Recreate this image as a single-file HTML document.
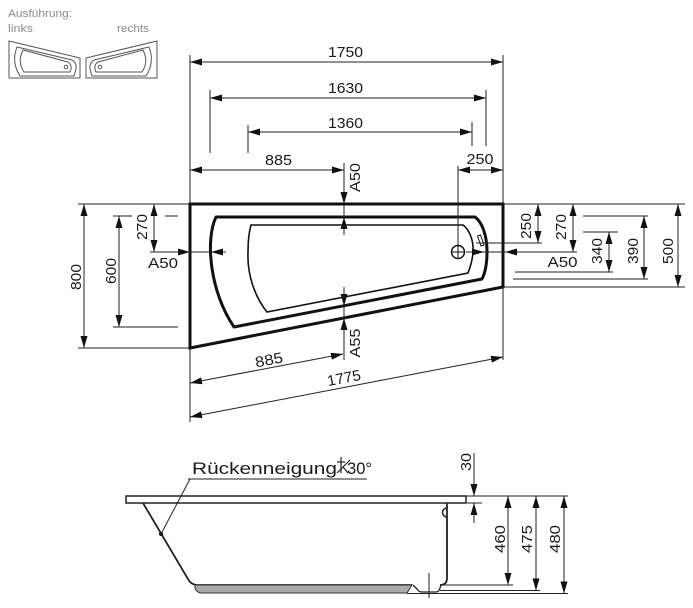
<!DOCTYPE html>
<html><head><meta charset="utf-8">
<style>
html,body{margin:0;padding:0;background:#fff;}
svg{display:block;}
text{font-family:"Liberation Sans",Arial,sans-serif;fill:#1a1a1a;}
</style></head><body>
<svg width="693" height="608" viewBox="0 0 693 608" xmlns="http://www.w3.org/2000/svg">
<defs>
<marker id="a" viewBox="0 0 12 7" refX="12" refY="3.5" markerWidth="12" markerHeight="7" markerUnits="userSpaceOnUse" orient="auto-start-reverse"><path d="M0,0 L12,3.5 L0,7 z" fill="#111"/></marker>
</defs>

<!-- header labels -->
<text x="8" y="17" font-size="11" fill="#8a8a8a" style="fill:#8a8a8a" textLength="64" lengthAdjust="spacingAndGlyphs">Ausführung:</text>
<text x="8" y="32" font-size="11" style="fill:#8a8a8a" textLength="25" lengthAdjust="spacingAndGlyphs">links</text>
<text x="117" y="32" font-size="11" style="fill:#8a8a8a" textLength="32" lengthAdjust="spacingAndGlyphs">rechts</text>

<!-- small icons -->
<g id="ic" fill="none" stroke="#555" stroke-width="1">
 <path d="M9,41 L80,58 L80,78 L9,78 Z"/>
 <path d="M17,47 L72,60 Q77,63 76,69 L74,76 L20,76 Q11,62 17,47 Z"/>
 <path d="M23,50 L68,62 Q72,65 71,69 L70,72 L24,72 Q17,62 23,50 Z"/>
 <circle cx="66" cy="67" r="1.8"/>
</g>
<g transform="translate(166,0) scale(-1,1)" fill="none" stroke="#555" stroke-width="1">
 <path d="M9,41 L80,58 L80,78 L9,78 Z"/>
 <path d="M17,47 L72,60 Q77,63 76,69 L74,76 L20,76 Q11,62 17,47 Z"/>
 <path d="M23,50 L68,62 Q72,65 71,69 L70,72 L24,72 Q17,62 23,50 Z"/>
 <circle cx="66" cy="67" r="1.8"/>
</g>

<!-- TOP VIEW: tub outlines -->
<g fill="none" stroke="#111">
 <polygon points="190,204 503,204 503,287 190,348" stroke-width="3"/>
 <path d="M216,217 L475,217 C482,222 487,235 487,252 C487,265 485,273 482,279 L234,327 C210,292 205,240 216,217 Z" stroke-width="3" stroke-linejoin="round"/>
 <path d="M251,225 L463,225 C470,230 474,242 473,253 C472,262 470,268 468,273 L267,312 C255,297 247,275 248,252 C248,240 249,232 251,225 Z" stroke-width="1.6"/>
 <circle cx="458" cy="252" r="6.5" stroke-width="1.5"/>
 <line x1="458" y1="246" x2="458" y2="258" stroke-width="1"/>
 <line x1="452" y1="252" x2="464" y2="252" stroke-width="1"/>
 <polygon points="477.5,236 480.5,235 484,245 481,246" stroke-width="1"/>
</g>

<!-- dimension lines -->
<g stroke="#222" stroke-width="1" fill="none">
 <!-- extension lines top -->
 <line x1="190" y1="55" x2="190" y2="204"/>
 <line x1="190" y1="348" x2="190" y2="422"/>
 <line x1="503" y1="55" x2="503" y2="204"/>
 <line x1="503" y1="287" x2="503" y2="360"/>
 <line x1="210" y1="90" x2="210" y2="153"/>
 <line x1="486" y1="90" x2="486" y2="146"/>
 <line x1="248" y1="125" x2="248" y2="153"/>
 <line x1="472" y1="122" x2="472" y2="146"/>
 <line x1="458" y1="166" x2="458" y2="245"/>
 <!-- top dims -->
 <line x1="190" y1="62" x2="503" y2="62" marker-start="url(#a)" marker-end="url(#a)"/>
 <line x1="210" y1="98" x2="486" y2="98" marker-start="url(#a)" marker-end="url(#a)"/>
 <line x1="248" y1="132" x2="472" y2="132" marker-start="url(#a)" marker-end="url(#a)"/>
 <line x1="190" y1="170" x2="344" y2="170" marker-start="url(#a)" marker-end="url(#a)"/>
 <line x1="458" y1="170" x2="503" y2="170" marker-start="url(#a)" marker-end="url(#a)"/>
 <!-- center vertical A50 / A55 -->
 <line x1="344" y1="163" x2="344" y2="204" marker-end="url(#a)"/>
 <line x1="344" y1="204" x2="344" y2="217"/>
 <line x1="344" y1="235" x2="344" y2="217" marker-end="url(#a)"/>
 <line x1="344" y1="287" x2="344" y2="306" marker-end="url(#a)"/>
 <line x1="344" y1="306" x2="344" y2="318"/>
 <line x1="344" y1="360" x2="344" y2="318" marker-end="url(#a)"/>
 <!-- left A50 -->
 <line x1="150" y1="252" x2="190" y2="252" marker-end="url(#a)"/>
 <line x1="190" y1="252" x2="211" y2="252"/>
 <line x1="226" y1="252" x2="211" y2="252" marker-end="url(#a)"/>
 <!-- right A50 -->
 <line x1="466" y1="252" x2="484" y2="252" marker-end="url(#a)"/>
 <line x1="484" y1="252" x2="505" y2="252"/>
 <line x1="577" y1="252" x2="505" y2="252" marker-end="url(#a)"/>
 <!-- left dims -->
 <line x1="78" y1="204" x2="190" y2="204"/>
 <line x1="78" y1="348" x2="190" y2="348"/>
 <line x1="84" y1="204" x2="84" y2="348" marker-start="url(#a)" marker-end="url(#a)"/>
 <line x1="113" y1="216" x2="132" y2="216"/>
 <line x1="165" y1="216" x2="178" y2="216"/>
 <line x1="113" y1="327" x2="178" y2="327"/>
 <line x1="119" y1="216" x2="119" y2="327" marker-start="url(#a)" marker-end="url(#a)"/>
 <line x1="154" y1="204" x2="154" y2="252" marker-start="url(#a)" marker-end="url(#a)"/>
 <!-- right dims -->
 <line x1="503" y1="204" x2="685" y2="204"/>
 <line x1="503" y1="287" x2="685" y2="287"/>
 <line x1="476" y1="243" x2="542" y2="243"/>
 <line x1="538" y1="204" x2="538" y2="243" marker-start="url(#a)" marker-end="url(#a)"/>
 <line x1="573" y1="204" x2="573" y2="252" marker-start="url(#a)" marker-end="url(#a)"/>
 <line x1="583" y1="232" x2="618" y2="232"/>
 <line x1="515" y1="272" x2="613" y2="272"/>
 <line x1="609" y1="232" x2="609" y2="272" marker-start="url(#a)" marker-end="url(#a)"/>
 <line x1="583" y1="216" x2="648" y2="216"/>
 <line x1="513" y1="279" x2="648" y2="279"/>
 <line x1="644" y1="216" x2="644" y2="279" marker-start="url(#a)" marker-end="url(#a)"/>
 <line x1="678" y1="204" x2="678" y2="287" marker-start="url(#a)" marker-end="url(#a)"/>
 <!-- slanted bottom dims -->
 <line x1="190" y1="383" x2="343" y2="354" marker-start="url(#a)" marker-end="url(#a)"/>
 <line x1="190" y1="417" x2="503" y2="357" marker-start="url(#a)" marker-end="url(#a)"/>
</g>

<!-- dimension texts -->
<g font-size="15">
 <text x="345.5" y="57" text-anchor="middle" textLength="35" lengthAdjust="spacingAndGlyphs">1750</text>
 <text x="345.5" y="93" text-anchor="middle" textLength="35" lengthAdjust="spacingAndGlyphs">1630</text>
 <text x="345.5" y="128" text-anchor="middle" textLength="35" lengthAdjust="spacingAndGlyphs">1360</text>
 <text x="278.5" y="165" text-anchor="middle" textLength="27" lengthAdjust="spacingAndGlyphs">885</text>
 <text x="480" y="164" text-anchor="middle" textLength="27" lengthAdjust="spacingAndGlyphs">250</text>
 <text x="163" y="268" text-anchor="middle" textLength="30" lengthAdjust="spacingAndGlyphs">A50</text>
 <text x="562.5" y="267" text-anchor="middle" textLength="30" lengthAdjust="spacingAndGlyphs">A50</text>

 <text x="355" y="182.5" text-anchor="middle" transform="rotate(-90 355 177.5)" textLength="29" lengthAdjust="spacingAndGlyphs">A50</text>
 <text x="355" y="348" text-anchor="middle" transform="rotate(-90 355 343)" textLength="29" lengthAdjust="spacingAndGlyphs">A55</text>
 <text x="76" y="282" text-anchor="middle" transform="rotate(-90 76 277)" textLength="26" lengthAdjust="spacingAndGlyphs">800</text>
 <text x="111" y="276" text-anchor="middle" transform="rotate(-90 111 271)" textLength="26" lengthAdjust="spacingAndGlyphs">600</text>
 <text x="142" y="232" text-anchor="middle" transform="rotate(-90 142 227)" textLength="26" lengthAdjust="spacingAndGlyphs">270</text>
 <text x="526" y="231" text-anchor="middle" transform="rotate(-90 526 226)" textLength="26" lengthAdjust="spacingAndGlyphs">250</text>
 <text x="561" y="232" text-anchor="middle" transform="rotate(-90 561 227)" textLength="26" lengthAdjust="spacingAndGlyphs">270</text>
 <text x="597" y="256" text-anchor="middle" transform="rotate(-90 597 251)" textLength="26" lengthAdjust="spacingAndGlyphs">340</text>
 <text x="633" y="256" text-anchor="middle" transform="rotate(-90 633 251)" textLength="26" lengthAdjust="spacingAndGlyphs">390</text>
 <text x="668" y="256" text-anchor="middle" transform="rotate(-90 668 251)" textLength="26" lengthAdjust="spacingAndGlyphs">500</text>

 <text x="269" y="365" text-anchor="middle" transform="rotate(-10.8 269 360)" textLength="28" lengthAdjust="spacingAndGlyphs">885</text>
 <text x="344" y="383" text-anchor="middle" transform="rotate(-10.8 344 378)" textLength="34" lengthAdjust="spacingAndGlyphs">1775</text>

 <text x="466" y="467" text-anchor="middle" transform="rotate(-90 466 462)" textLength="18" lengthAdjust="spacingAndGlyphs">30</text>
 <text x="500" y="544" text-anchor="middle" transform="rotate(-90 500 539)" textLength="28" lengthAdjust="spacingAndGlyphs">460</text>
 <text x="527" y="544" text-anchor="middle" transform="rotate(-90 527 539)" textLength="28" lengthAdjust="spacingAndGlyphs">475</text>
 <text x="555" y="544" text-anchor="middle" transform="rotate(-90 555 539)" textLength="28" lengthAdjust="spacingAndGlyphs">480</text>
</g>

<!-- SIDE VIEW -->
<g fill="none" stroke="#222">
 <rect x="126" y="496" width="340" height="7" stroke-width="1.5" fill="#fff"/>
 <path d="M143,503 L188,579 Q191,585 198,585 L412,585" stroke-width="1.8"/>
 <path d="M195,585 L412,585 L407,593 L201,593 Q196,592 195,588 Z" fill="#aaa" stroke="#333" stroke-width="1"/>
 <path d="M413,585 L418,590 Q419,592 422,592 L436,592 Q439,592 440,588 L441,585" stroke-width="1.3"/>
 <path d="M447,503 L447,578 Q447,585 440,585" stroke-width="1.8"/>
 <path d="M447,508 A4.5,4.5 0 0 0 447,517" stroke-width="1.5"/>
 <line x1="429" y1="573" x2="429" y2="598" stroke-width="1"/>
</g>
<g stroke="#222" stroke-width="1" fill="none">
 <line x1="466" y1="496" x2="568" y2="496"/>
 <line x1="467" y1="503" x2="482" y2="503"/>
 <line x1="474" y1="453" x2="474" y2="496" marker-end="url(#a)"/>
 <line x1="474" y1="523" x2="474" y2="503" marker-end="url(#a)"/>
 <line x1="440" y1="585" x2="513" y2="585"/>
 <line x1="440" y1="590.5" x2="540" y2="590.5"/>
 <line x1="407" y1="593.5" x2="568" y2="593.5"/>
 <line x1="508" y1="496" x2="508" y2="585" marker-start="url(#a)" marker-end="url(#a)"/>
 <line x1="536" y1="496" x2="536" y2="590.5" marker-start="url(#a)" marker-end="url(#a)"/>
 <line x1="564" y1="496" x2="564" y2="593.5" marker-start="url(#a)" marker-end="url(#a)"/>
 <!-- leader -->
 <line x1="188" y1="479" x2="367" y2="479"/>
 <line x1="190" y1="479" x2="161" y2="534"/>
</g>
<circle cx="161" cy="534" r="2" fill="#111"/>
<text x="192" y="474" font-size="17" textLength="145" lengthAdjust="spacingAndGlyphs">Rückenneigung</text>
<g stroke="#222" stroke-width="1.2" fill="none">
 <line x1="341" y1="457" x2="341" y2="473"/>
 <line x1="337" y1="462" x2="345" y2="462"/>
 <line x1="337" y1="473" x2="350" y2="460"/>
 <line x1="343" y1="467" x2="348" y2="473"/>
</g>
<text x="347" y="474" font-size="17" textLength="25" lengthAdjust="spacingAndGlyphs">30°</text>
</svg>
</body></html>
